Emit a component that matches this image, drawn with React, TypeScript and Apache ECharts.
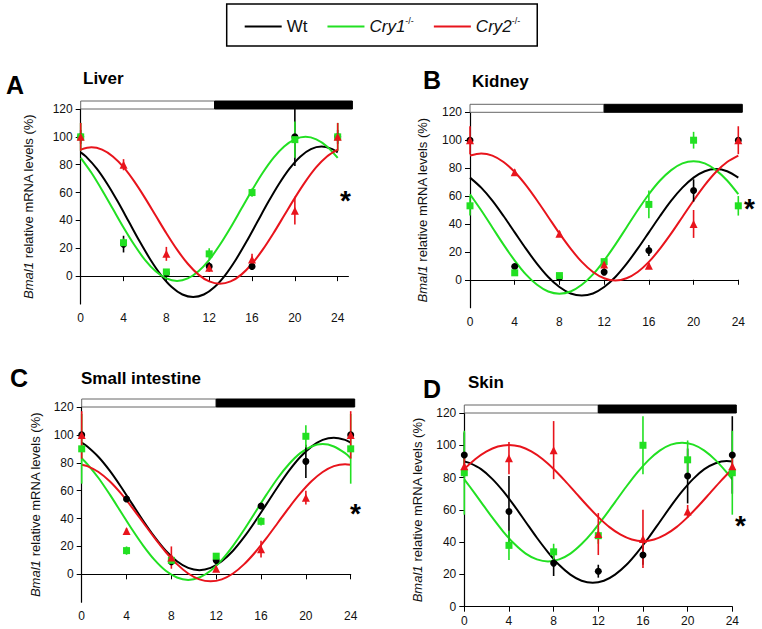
import React, { useEffect, useRef } from "react";
import * as echarts from "echarts";

// ---------- data ----------
const hours = [0, 4, 8, 12, 16, 20, 24];
// sampling hours used when reading the fitted curves off the figure
const fitHours = [0, 1, 2, 3, 4, 5, 6, 7, 8, 9, 10, 11, 12, 13, 14, 15, 16, 17, 18, 19, 20, 21, 22, 23, 24];
const fitHalfHours = [0, 0.5, 1.5, 2.5, 3.5, 4.5, 5.5, 6.5, 7.5, 8.5, 9.5, 10.5, 11.5, 12.5, 13.5, 14.5, 15.5, 16.5, 17.5, 18.5, 19.5, 20.5, 21.5, 22.5, 23.5, 24];
const xTickValues = [0, 4, 8, 12, 16, 20, 24];
const yTickValues = [0, 20, 40, 60, 80, 100, 120];
const genotypes = ["Wt", "Cry1", "Cry2"];
const yAxisTitle = "{i|Bmal1} relative mRNA levels (%)";

// Liver (A)
const liverWt = [100, 23, 2, 7, 7, 100, 100];
const liverWtErr = [5, 6, 2, 3, 2, 21, 5];
const liverCry1 = [100, 24, 3, 16, 60, 98, 100];
const liverCry1Err = [10, 3, 2, 4, 3, 13, 10];
const liverCry2 = [100, 80, 16, 6, 12, 47, 100];
const liverCry2Err = [10, 4, 5, 3, 4, 10, 10];
const liverFitWt = [88.9, 85.8, 77.2, 66.0, 53.0, 39.0, 25.0, 12.0, 0.8, -7.8, -13.2, -15.0, -13.2, -7.8, 0.8, 12.0, 25.0, 39.0, 53.0, 66.0, 77.2, 85.8, 91.2, 93.0, 91.2, 88.9];
const liverFitCry1 = [84.9, 74.2, 61.7, 48.3, 34.9, 22.5, 11.7, 3.5, -1.6, -3.4, -1.6, 3.5, 11.7, 22.5, 34.9, 48.3, 61.7, 74.2, 84.9, 93.1, 98.2, 100.0, 98.2, 93.1, 84.9];
const liverFitCry2 = [90.8, 92.5, 90.8, 85.9, 78.2, 68.0, 56.2, 43.5, 30.8, 19.0, 8.9, 1.1, -3.8, -5.5, -3.8, 1.1, 8.9, 19.0, 30.8, 43.5, 56.2, 68.0, 78.2, 85.9, 90.8];
const liverLightDark = [[0, 12.5], [12.5, 25]];

// Kidney (B)
const kidneyWt = [100, 9.5, 1.5, 5.5, 21, 64, 100];
const kidneyWtErr = [0, 2, 1, 2, 4, 8, 0];
const kidneyCry1 = [53, 5, 3, 13, 54, 100, 53];
const kidneyCry1Err = [7, 1, 1, 2, 10, 6, 7];
const kidneyCry2 = [100, 77, 33, 11, 10, 40, 100];
const kidneyCry2Err = [10, 2, 2, 4, 2, 10, 10];
const kidneyFitWt = [73.2, 66.0, 56.7, 45.7, 34.0, 22.3, 11.4, 2.0, -5.2, -9.8, -11.3, -9.8, -5.2, 2.0, 11.4, 22.3, 34.0, 45.7, 56.7, 66.0, 73.2, 77.8, 79.3, 77.8, 73.2];
const kidneyFitCry1 = [61.3, 49.8, 37.5, 25.2, 13.8, 3.9, -3.6, -8.4, -10.0, -8.4, -3.6, 3.9, 13.8, 25.2, 37.5, 49.8, 61.3, 71.1, 78.6, 83.4, 85.0, 83.4, 78.6, 71.1, 61.3];
const kidneyFitCry2 = [89.0, 90.5, 89.0, 84.4, 77.2, 67.8, 56.8, 45.0, 33.2, 22.3, 12.8, 5.6, 1.1, -0.5, 1.1, 5.6, 12.8, 22.3, 33.2, 45.0, 56.8, 67.8, 77.2, 84.4, 89.0];
const kidneyLightDark = [[0, 12], [12, 24]];

// Small intestine (C)
const intestineWt = [100, 54, 9, 10, 49, 81, 100];
const intestineWtErr = [0, 2, 2, 2, 2, 12, 0];
const intestineCry1 = [90, 17, 10, 13, 38, 99, 90];
const intestineCry1Err = [25, 3, 2, 2, 3, 8, 25];
const intestineCry2 = [100, 31, 12, 4, 18, 55, 100];
const intestineCry2Err = [17, 2, 8, 2, 6, 5, 17];
const intestineFitWt = [94.4, 91.6, 84.1, 74.3, 62.8, 50.5, 38.2, 26.8, 16.9, 9.4, 4.6, 3.0, 4.6, 9.4, 16.9, 26.8, 38.2, 50.5, 62.8, 74.3, 84.1, 91.6, 96.4, 98.0, 96.4, 94.4];
const intestineFitCry1 = [83.3, 79.1, 69.1, 57.3, 44.7, 32.1, 20.4, 10.3, 2.5, -2.3, -4.0, -2.3, 2.5, 10.3, 20.4, 32.1, 44.7, 57.3, 69.1, 79.1, 86.9, 91.7, 93.4, 91.7, 86.9, 83.3];
const intestineFitCry2 = [78.6, 77.6, 73.4, 66.7, 58.0, 47.9, 37.0, 26.1, 16.0, 7.3, 0.6, -3.6, -5.0, -3.6, 0.6, 7.3, 16.0, 26.1, 37.0, 47.9, 58.0, 66.7, 73.4, 77.6, 79.0, 78.6];
const intestineLightDark = [[0, 12], [12, 24]];

// Skin (D)
const skinWt = [94, 59, 27, 22, 32, 81, 94];
const skinWtErr = [14, 22, 8, 4, 6, 17, 24];
const skinCry1 = [83, 38, 34, 44, 100, 91, 83];
const skinCry1Err = [26, 9, 5, 5, 18, 12, 26];
const skinCry2 = [87, 92, 97, 45, 42, 59, 87];
const skinCry2Err = [5, 10, 18, 13, 18, 4, 5];
const skinFitWt = [89.9, 88.9, 85.2, 79.2, 71.4, 62.3, 52.5, 42.7, 33.7, 25.8, 19.9, 16.1, 14.8, 16.1, 19.9, 25.8, 33.7, 42.7, 52.5, 62.3, 71.4, 79.2, 85.2, 88.9, 90.2, 89.9];
const skinFitCry1 = [78.9, 74.3, 64.8, 55.3, 46.4, 38.8, 32.9, 29.3, 28.0, 29.3, 32.9, 38.8, 46.4, 55.3, 64.8, 74.3, 83.2, 90.8, 96.7, 100.4, 101.6, 100.4, 96.7, 90.8, 83.2, 78.9];
const skinFitCry2 = [85.3, 91.5, 96.2, 99.2, 100.2, 99.2, 96.2, 91.5, 85.3, 78.1, 70.4, 62.7, 55.5, 49.3, 44.6, 41.6, 40.6, 41.6, 44.6, 49.3, 55.5, 62.7, 70.4, 78.1, 85.3];
const skinLightDark = [[0, 12], [12, 24]];

// ---------- styling / layout ----------
const FONT = '"Liberation Sans", Arial, Helvetica, sans-serif';
const COLORS = ["#000000", "#22e022", "#e8141c"];
const SYMBOLS = ["circle", "rect", "triangle"];
const SYMBOL_SIZES = [7, 7, 8];

const panels = [
  {
    letter: "A", title: "Liver",
    grid: { left: 80.7, top: 109, width: 267.7, height: 195 },
    xMax: 25, yMin: -20, nameGap: 46,
    values: [liverWt, liverCry1, liverCry2],
    errors: [liverWtErr, liverCry1Err, liverCry2Err],
    fits: [liverFitWt, liverFitCry1, liverFitCry2],
    fitX: [fitHalfHours, fitHours, fitHours],
    lightDark: liverLightDark,
    letterPos: [6, 85], titlePos: [83, 79], starPos: [348, 195],
  },
  {
    letter: "B", title: "Kidney",
    grid: { left: 470, top: 112.3, width: 268.3, height: 195.4 },
    xMax: 24, yMin: -20, nameGap: 41,
    values: [kidneyWt, kidneyCry1, kidneyCry2],
    errors: [kidneyWtErr, kidneyCry1Err, kidneyCry2Err],
    fits: [kidneyFitWt, kidneyFitCry1, kidneyFitCry2],
    fitX: [fitHours, fitHours, fitHours],
    lightDark: kidneyLightDark,
    letterPos: [423, 80], titlePos: [472, 82], starPos: [752, 203],
  },
  {
    letter: "C", title: "Small intestine",
    grid: { left: 81.7, top: 407, width: 269, height: 195.2 },
    xMax: 24, yMin: -20, nameGap: 40,
    values: [intestineWt, intestineCry1, intestineCry2],
    errors: [intestineWtErr, intestineCry1Err, intestineCry2Err],
    fits: [intestineFitWt, intestineFitCry1, intestineFitCry2],
    fitX: [fitHalfHours, fitHalfHours, fitHalfHours],
    lightDark: intestineLightDark,
    letterPos: [10, 378], titlePos: [81, 379], starPos: [358, 508],
  },
  {
    letter: "D", title: "Skin",
    grid: { left: 464.3, top: 413, width: 268, height: 193.7 },
    xMax: 24, yMin: 0, nameGap: 40,
    values: [skinWt, skinCry1, skinCry2],
    errors: [skinWtErr, skinCry1Err, skinCry2Err],
    fits: [skinFitWt, skinFitCry1, skinFitCry2],
    fitX: [fitHalfHours, fitHalfHours, fitHours],
    lightDark: skinLightDark,
    letterPos: [423, 389], titlePos: [468, 383], starPos: [743, 520],
  },
];

const Y_MAX = 120;

function buildOption() {
  const grid: any[] = [];
  const xAxis: any[] = [];
  const yAxis: any[] = [];
  const series: any[] = [];
  const graphic: any[] = [];

  panels.forEach((p, pi) => {
    grid.push({ ...p.grid, containLabel: false });
    xAxis.push({
      type: "value", gridIndex: pi, min: 0, max: p.xMax, interval: 4,
      axisLine: { show: true, lineStyle: { color: "#000", width: 1.2 } },
      axisTick: { show: true, length: 5, lineStyle: { color: "#000" }, customValues: xTickValues },
      axisLabel: {
        show: true, margin: 8, color: "#111", fontSize: 12, fontFamily: FONT,
        customValues: xTickValues,
        formatter: (v: number) => (xTickValues.includes(v) ? String(v) : ""),
      },
      splitLine: { show: false },
    });
    yAxis.push({
      type: "value", gridIndex: pi, min: p.yMin, max: Y_MAX, interval: 20,
      name: yAxisTitle, nameLocation: "middle", nameRotate: 90, nameGap: p.nameGap,
      nameTextStyle: {
        fontSize: 13, color: "#111", fontFamily: FONT,
        rich: { i: { fontStyle: "italic", fontSize: 13, color: "#111", fontFamily: FONT } },
      },
      axisLine: { show: true, lineStyle: { color: "#000", width: 1.2 } },
      axisTick: { show: true, length: 5, lineStyle: { color: "#000" }, customValues: yTickValues },
      axisLabel: {
        show: true, margin: 8, color: "#111", fontSize: 12, fontFamily: FONT,
        customValues: yTickValues,
        formatter: (v: number) => (yTickValues.includes(v) ? String(v) : ""),
      },
      splitLine: { show: false },
    });

    // light / dark bar above the plot
    series.push({
      type: "custom", name: "lightdark" + pi, xAxisIndex: pi, yAxisIndex: pi,
      data: p.lightDark, clip: false, silent: true, z: 5,
      encode: { x: [0, 1] },
      renderItem: (params: any, api: any) => {
        const s = api.coord([api.value(0), Y_MAX]);
        const e = api.coord([api.value(1), Y_MAX]);
        const dark = params.dataIndex === 1;
        const x2 = e[0] + (dark ? 4 : 0);
        return {
          type: "rect",
          shape: { x: s[0], y: s[1] - 8, width: x2 - s[0], height: 8 },
          style: { fill: dark ? "#000" : "#fff", stroke: dark ? "#000" : "#666", lineWidth: 1 },
        };
      },
    });

    // fitted cosinor curves
    genotypes.forEach((g, gi) => {
      series.push({
        type: "line", name: g, xAxisIndex: pi, yAxisIndex: pi,
        data: p.fitX[gi].map((h, k) => [h, p.fits[gi][k]]),
        smooth: 0.3, symbol: "none", showSymbol: false,
        lineStyle: { color: COLORS[gi], width: 2 }, itemStyle: { color: COLORS[gi] },
        z: 2, silent: true,
      });
    });
    // error bars
    genotypes.forEach((g, gi) => {
      series.push({
        type: "custom", name: g + " SEM " + pi, xAxisIndex: pi, yAxisIndex: pi,
        data: hours.map((h, k) => [h, p.values[gi][k], p.errors[gi][k]]),
        encode: { x: 0, y: 1 }, clip: false, z: 3, silent: true,
        renderItem: (params: any, api: any) => {
          const x = api.value(0), y = api.value(1), e = api.value(2);
          const top = api.coord([x, Math.min(y + e, Y_MAX)]);
          const bot = api.coord([x, y - e]);
          return {
            type: "line",
            shape: { x1: top[0], y1: top[1], x2: bot[0], y2: bot[1] },
            style: { stroke: COLORS[gi], lineWidth: 1.6 },
          };
        },
      });
    });
    // data points
    genotypes.forEach((g, gi) => {
      series.push({
        type: "scatter", name: g + " points " + pi, xAxisIndex: pi, yAxisIndex: pi,
        data: hours.map((h, k) => [h, p.values[gi][k]]),
        symbol: SYMBOLS[gi], symbolSize: SYMBOL_SIZES[gi],
        itemStyle: { color: COLORS[gi], opacity: 1 }, z: 4, silent: true,
      });
    });

    graphic.push({
      type: "text", left: p.letterPos[0], top: p.letterPos[1] - 13,
      style: { text: p.letter, font: `bold 25px ${FONT}`, fill: "#000" },
    });
    graphic.push({
      type: "text", left: p.titlePos[0], top: p.titlePos[1] - 9,
      style: { text: p.title, font: `bold 17px ${FONT}`, fill: "#000" },
    });
    graphic.push({
      type: "text", left: p.starPos[0] - 8, top: p.starPos[1] - 9,
      style: { text: "*", font: `bold 28px ${FONT}`, fill: "#000" },
    });
  });

  return {
    animation: false,
    backgroundColor: "#fff",
    textStyle: { fontFamily: FONT },
    legend: {
      data: genotypes,
      left: 226.7, top: 4,
      orient: "horizontal",
      padding: [12, 17, 11, 18],
      itemGap: 20, itemWidth: 37, itemHeight: 14,
      borderColor: "#000", borderWidth: 1.5, borderRadius: 0,
      icon: "path://M0,6 L37,6 L37,8 L0,8 Z",
      selectedMode: false,
      formatter: (name: string) => (name === "Wt" ? "{n|Wt}" : `{i|${name}}{s|-/-}`),
      textStyle: {
        fontSize: 17, color: "#111", fontFamily: FONT,
        rich: {
          n: { fontSize: 17, color: "#111", fontFamily: FONT },
          i: { fontSize: 17, fontStyle: "italic", color: "#111", fontFamily: FONT },
          s: { fontSize: 9, color: "#111", fontFamily: FONT, padding: [0, 0, 12, 0] },
        },
      },
    },
    grid, xAxis, yAxis, series, graphic,
  };
}

export default function App() {
  const ref = useRef<HTMLDivElement>(null);
  useEffect(() => {
    document.body.style.margin = "0";
    if (!ref.current) return;
    const chart = echarts.init(ref.current, undefined, { renderer: "svg" });
    chart.setOption(buildOption() as any);
    return () => chart.dispose();
  }, []);
  return <div ref={ref} style={{ width: 762, height: 629, background: "#fff" }} />;
}
